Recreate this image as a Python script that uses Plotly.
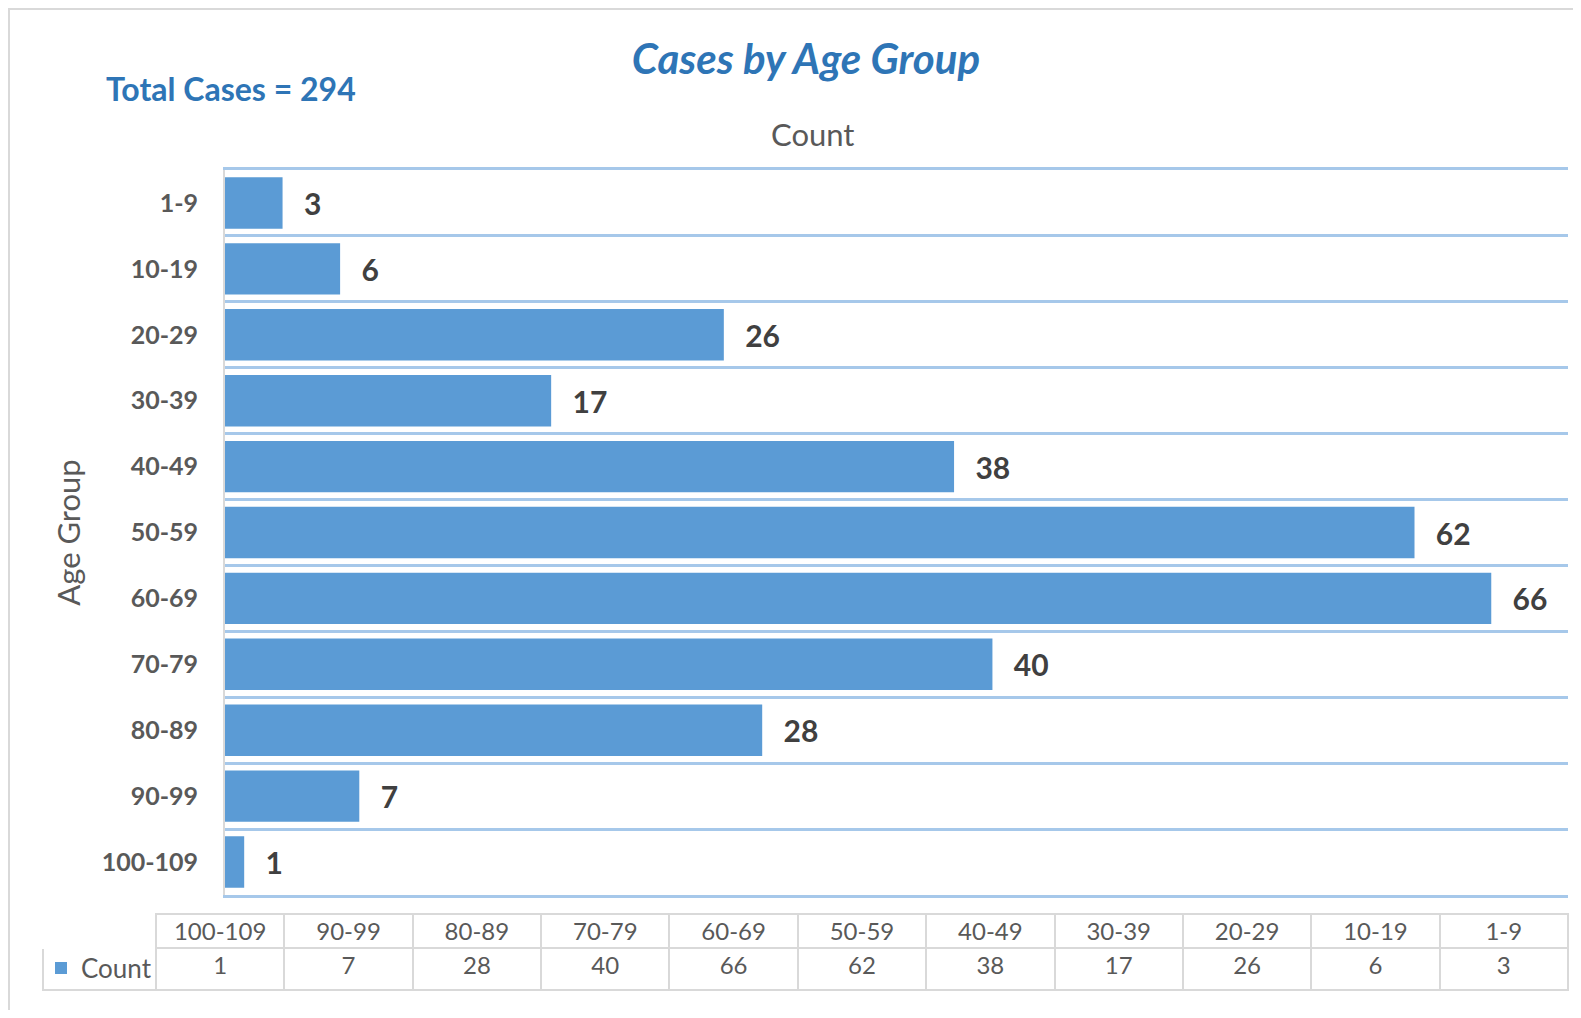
import plotly.graph_objects as go

# page body adds an 8px margin, so the figure is a bit smaller than the window
W, H = 1565, 1002
OFFSET = 8

AGE_GROUPS = ["1-9", "10-19", "20-29", "30-39", "40-49", "50-59",
              "60-69", "70-79", "80-89", "90-99", "100-109"]
COUNTS = [3, 6, 26, 17, 38, 62, 66, 40, 28, 7, 1]
TITLE = "Cases by Age Group"
SERIES_NAME = "Count"
Y_TITLE = "Age Group"

BAR_COLOR = "#5b9bd5"
GRID_COLOR = "#a6c8ea"
TEXT_GRAY = "#595959"
LABEL_GRAY = "#404040"
TITLE_BLUE = "#2e75b6"
FONT = "Lato"


def px_x(v):
    # screen pixel -> paper fraction
    return (v - OFFSET) / W


def px_y(v):
    return 1 - (v - OFFSET) / H


fig = go.Figure()

fig.add_trace(
    go.Bar(
        x=COUNTS,
        y=AGE_GROUPS,
        orientation="h",
        name=SERIES_NAME,
        width=0.78,
        marker=dict(color=BAR_COLOR, line=dict(width=0)),
        texttemplate="\u00a0\u00a0\u2009%{x}",
        textposition="outside",
        constraintext="none",
        cliponaxis=False,
        outsidetextfont=dict(family=FONT, size=30, color=LABEL_GRAY, weight="bold"),
        showlegend=True,
    )
)

# data table under the chart, columns in reverse order like the source
# (the legend key sits in the empty first cell of the value row)
table_groups = AGE_GROUPS[::-1]
table_counts = COUNTS[::-1]
header_lines = ["#ffffff"] + ["#d9d9d9"] * len(table_groups)
fig.add_trace(
    go.Table(
        domain=dict(x=[px_x(43), px_x(1568)], y=[px_y(992), px_y(914)]),
        columnwidth=[113] + [128.4] * len(table_groups),
        header=dict(
            values=[""] + table_groups,
            height=34,
            fill=dict(color="white"),
            line=dict(color=header_lines, width=2),
            align="center",
            font=dict(family=FONT, size=24, color=TEXT_GRAY),
        ),
        cells=dict(
            values=[[""]] + [[v] for v in table_counts],
            height=42,
            fill=dict(color="rgba(0,0,0,0)"),
            line=dict(color="#d9d9d9", width=2),
            align="center",
            font=dict(family=FONT, size=24, color=TEXT_GRAY),
        ),
    )
)

# thin grey edge of the chart card
fig.add_shape(
    type="rect", xref="paper", yref="paper",
    x0=px_x(9), x1=1.02, y0=-0.02, y1=px_y(9),
    fillcolor="white", line=dict(color="#d9d9d9", width=2), layer="below",
)

fig.add_annotation(
    x=px_x(104), y=px_y(88), xref="paper", yref="paper",
    xanchor="left", yanchor="middle", showarrow=False,
    text=f"<b>Total Cases = {sum(COUNTS)}</b>",
    font=dict(family=FONT, size=32, color=TITLE_BLUE),
)
fig.add_annotation(
    x=px_x(812), y=px_y(134), xref="paper", yref="paper",
    xanchor="center", yanchor="middle", showarrow=False,
    text=SERIES_NAME,
    font=dict(family=FONT, size=31, color=TEXT_GRAY),
)

fig.update_xaxes(
    range=[0, 70],
    domain=[px_x(225), px_x(1568)],
    side="top",
    showticklabels=False,
    showgrid=False,
    zeroline=False,
    showline=True,
    mirror=True,
    linecolor=GRID_COLOR,
    linewidth=3,
    ticks="",
)
fig.update_yaxes(
    type="category",
    categoryorder="array",
    categoryarray=AGE_GROUPS,
    autorange="reversed",
    domain=[px_y(895), px_y(170)],
    tickson="boundaries",
    showgrid=True,
    gridcolor=GRID_COLOR,
    gridwidth=3,
    showline=True,
    linecolor="#d9d9d9",
    linewidth=2,
    ticks="",
    ticklabelstandoff=20,
    tickfont=dict(family=FONT, size=25, color=TEXT_GRAY, weight="bold"),
    title=dict(text=Y_TITLE, standoff=12,
               font=dict(family=FONT, size=31, color=TEXT_GRAY)),
)

fig.update_layout(
    width=W,
    height=H,
    margin=dict(l=0, r=0, t=0, b=0),
    paper_bgcolor="white",
    plot_bgcolor="white",
    font=dict(family=FONT, color=TEXT_GRAY),
    showlegend=True,
    legend=dict(
        x=px_x(41), y=px_y(968), xanchor="left", yanchor="middle",
        bgcolor="rgba(0,0,0,0)", borderwidth=0,
        font=dict(family=FONT, size=26, color=TEXT_GRAY),
        itemwidth=30,
    ),
    title=dict(
        text=f"<i><b>{TITLE}</b></i>",
        x=px_x(806), y=px_y(59), xref="paper", yref="paper",
        xanchor="center", yanchor="middle",
        font=dict(family=FONT, size=42, color=TITLE_BLUE),
    ),
)

fig.write_html("out.html")
